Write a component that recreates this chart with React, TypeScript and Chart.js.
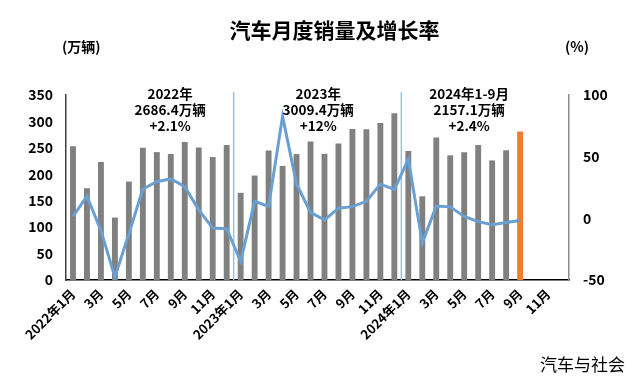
import React, { useEffect, useRef } from "react";
import { Chart, registerables } from "chart.js";

Chart.register(...registerables);

const categories = [
  "2022年1月", "2月", "3月", "4月", "5月", "6月", "7月", "8月", "9月", "10月", "11月", "12月",
  "2023年1月", "2月", "3月", "4月", "5月", "6月", "7月", "8月", "9月", "10月", "11月", "12月",
  "2024年1月", "2月", "3月", "4月", "5月", "6月", "7月", "8月", "9月", "10月", "11月", "12月",
];

// 万辆
const sales = [
  253.1, 173.7, 223.4, 118.1, 186.2, 250.2, 242.0, 238.3, 261.0, 250.6, 232.6, 255.6,
  164.9, 197.6, 245.1, 215.9, 238.2, 262.2, 238.7, 258.2, 285.8, 285.3, 297.0, 315.6,
  243.9, 158.4, 269.4, 235.9, 241.7, 255.3, 226.2, 245.3, 280.9, null, null, null,
];

// %
const growth = [
  1.5, 18.0, -10.0, -47.6, -12.6, 23.8, 29.7, 32.1, 25.7, 6.9, -7.9, -8.4,
  -35.0, 13.8, 9.7, 82.7, 27.9, 4.8, -1.4, 8.2, 9.5, 13.8, 27.7, 23.5,
  47.9, -19.9, 9.9, 9.3, 1.5, -2.7, -5.2, -3.4, -1.7, null, null, null,
];

const highlightIndex = 32;

const yearNotes = [
  { at: 6.95, lines: ["2022年", "2686.4万辆", "+2.1%"] },
  { at: 17.55, lines: ["2023年", "3009.4万辆", "+12%"] },
  { at: 28.35, lines: ["2024年1-9月", "2157.1万辆", "+2.4%"] },
];

const yearBoundaries = [12, 24];

const FONT = "'Noto Sans CJK SC', 'Noto Sans', sans-serif";

const overlayPlugin = {
  id: "overlay",
  beforeDatasetsDraw(chart: any) {
    const { ctx, chartArea, scales } = chart;
    const x = scales.x;
    ctx.save();
    ctx.strokeStyle = "#9dbfe0";
    ctx.lineWidth = 1.5;
    yearBoundaries.forEach((b) => {
      const px = (x.getPixelForValue(b - 1) + x.getPixelForValue(b)) / 2;
      ctx.beginPath();
      ctx.moveTo(px, chartArea.top - 3);
      ctx.lineTo(px, chartArea.bottom);
      ctx.stroke();
    });
    ctx.restore();
  },
  afterDraw(chart: any) {
    const { ctx, chartArea, scales, width, height } = chart;
    const x = scales.x;
    ctx.save();
    ctx.fillStyle = "#000";
    ctx.textBaseline = "middle";
    ctx.textAlign = "center";
    ctx.font = `bold 21px ${FONT}`;
    ctx.fillText("汽车月度销量及增长率", width / 2 + 18, 30);
    ctx.font = `bold 14px ${FONT}`;
    ctx.textAlign = "left";
    ctx.fillText("(万辆)", chartArea.left - 4, 47);
    ctx.fillText("(%)", chartArea.right - 4, 47);
    ctx.textAlign = "center";
    ctx.font = `bold 13.5px ${FONT}`;
    yearNotes.forEach((n) => {
      const px = x.getPixelForValue(n.at);
      n.lines.forEach((t, i) => ctx.fillText(t, px, chartArea.top - 1 + i * 16));
    });
    ctx.font = `17px ${FONT}`;
    ctx.textAlign = "right";
    ctx.fillText("汽车与社会", width - 8, height - 16);
    ctx.restore();
  },
};

export default function App() {
  const ref = useRef<HTMLCanvasElement>(null);
  useEffect(() => {
    if (!ref.current) return;
    const chart = new Chart(ref.current, {
      type: "bar",
      data: {
        labels: categories,
        datasets: [
          {
            type: "line",
            label: "增长率",
            data: growth,
            yAxisID: "y1",
            borderColor: "#6a9fd3",
            borderWidth: 3,
            pointRadius: 0,
            tension: 0,
            order: 0,
          } as any,
          {
            type: "bar",
            label: "销量",
            data: sales,
            yAxisID: "y",
            backgroundColor: sales.map((_, i) => (i === highlightIndex ? "#ed7d31" : "#808080")),
            barPercentage: 0.42,
            categoryPercentage: 1,
            order: 1,
          },
        ],
      },
      options: {
        responsive: false,
        animation: false,
        devicePixelRatio: 1,
        layout: { padding: { top: 95, left: 0, right: 0, bottom: 0 } },
        plugins: { legend: { display: false }, tooltip: { enabled: false }, title: { display: false } },
        scales: {
          x: {
            grid: { display: false, drawTicks: false },
            border: { display: true, color: "#000", width: 1.5 },
            ticks: {
              autoSkip: false,
              minRotation: 45,
              maxRotation: 45,
              padding: 6,
              color: "#000",
              font: { family: FONT, size: 13, weight: "bold" },
              callback: (_v: any, i: number) => (i % 2 === 0 ? categories[i] : ""),
            },
            afterFit: (s: any) => {
              s.height = 101;
            },
          },
          y: {
            position: "left",
            min: 0,
            max: 350,
            grid: { display: false, drawTicks: false },
            border: { display: true, color: "#404040", width: 1.5 },
            ticks: {
              stepSize: 50,
              padding: 13,
              color: "#000",
              font: { family: FONT, size: 14, weight: "bold" },
            },
            afterFit: (s: any) => {
              s.width = 66;
            },
          },
          y1: {
            position: "right",
            min: -50,
            max: 100,
            grid: { display: false, drawTicks: false },
            border: { display: true, color: "#8c8c8c", width: 1.5 },
            ticks: {
              stepSize: 50,
              padding: 14,
              color: "#000",
              font: { family: FONT, size: 14, weight: "bold" },
            },
            afterFit: (s: any) => {
              s.width = 64;
            },
          },
        },
      } as any,
      plugins: [overlayPlugin],
    });
    return () => chart.destroy();
  }, []);
  return (
    <div style={{ position: "fixed", left: 0, top: 0, width: 633, height: 381, background: "#fff" }}>
      <canvas ref={ref} width={633} height={381} />
    </div>
  );
}
